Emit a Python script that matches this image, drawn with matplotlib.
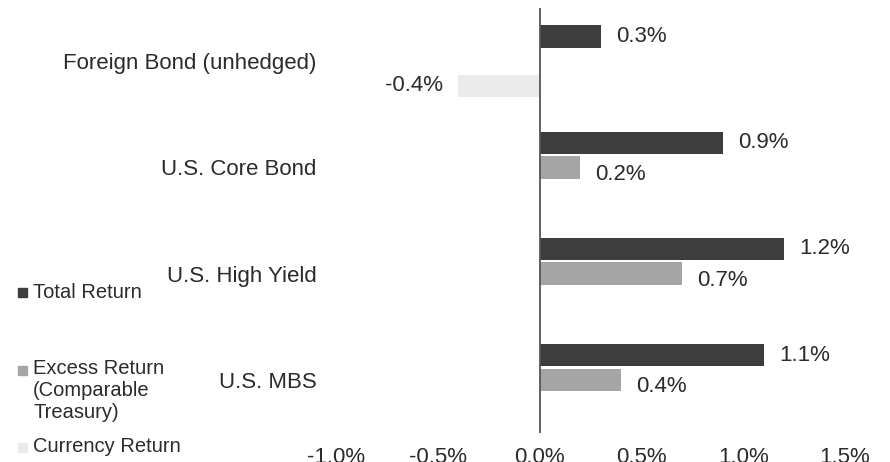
import numpy as np
import matplotlib
matplotlib.use("Agg")
import matplotlib.pyplot as plt
from matplotlib.patches import Rectangle

plt.rcParams['font.family'] = ['Liberation Sans', 'DejaVu Sans']

categories = ["Foreign Bond (unhedged)", "U.S. Core Bond", "U.S. High Yield", "U.S. MBS"]
series_names = ["Total Return", "Excess Return\n(Comparable\nTreasury)", "Currency Return"]
total_return = [0.3, 0.9, 1.2, 1.1]
excess_return = [np.nan, 0.2, 0.7, 0.4]
currency_return = [-0.4, np.nan, np.nan, np.nan]
x_ticks = [-1.0, -0.5, 0.0, 0.5, 1.0, 1.5]

colors = ["#3d3d3d", "#a5a5a5", "#ebebeb"]
text_color = "#2b2b2b"

fig = plt.figure(figsize=(8.9, 4.62), dpi=100)
ax = fig.add_axes([336 / 890, 1 - 433 / 462, 509 / 890, 425 / 462])

ypos = np.arange(len(categories))
slot = 0.232
bar_h = 0.21
all_series = [total_return, excess_return, currency_return]

for k, vals in enumerate(all_series):
    offs = (k - 1) * slot
    for i, v in enumerate(vals):
        if np.isnan(v):
            continue
        y = ypos[i] + offs
        ax.barh(y, v, height=bar_h, color=colors[k], edgecolor="none")
        lbl = f"{v:.1f}%"
        dy = -5 if k == 1 else 0  # excess labels sit a bit lower
        if v >= 0:
            ax.annotate(lbl, (v, y), xytext=(11, dy), textcoords="offset points",
                        ha="left", va="center", fontsize=16, color=text_color)
        else:
            ax.annotate(lbl, (v, y), xytext=(-11, dy), textcoords="offset points",
                        ha="right", va="center", fontsize=16, color=text_color)

ax.axvline(0, color="#555555", lw=1.3)

ax.set_xlim(-1.0, 1.5)
ax.set_ylim(len(categories) - 0.5, -0.5)
ax.set_xticks(x_ticks)
ax.set_xticklabels([f"{t:.1f}%" for t in x_ticks], fontsize=16, color=text_color)
ax.set_yticks(ypos)
ax.set_yticklabels(categories, fontsize=16, color=text_color)
ax.tick_params(axis="x", length=0, pad=10)
ax.tick_params(axis="y", length=0, pad=14)
for s in ax.spines.values():
    s.set_visible(False)

# legend on the left, drawn by hand
leg_y = [292, 370, 447]
for k, name in enumerate(series_names):
    yy = 1 - leg_y[k] / 462
    fig.add_artist(Rectangle((18 / 890, yy - 4.5 / 462), 9 / 890, 9 / 462,
                             transform=fig.transFigure, color=colors[k]))
    if "\n" in name:
        fig.text(33 / 890, yy + 11 / 462, name, fontsize=14.5, color=text_color,
                 ha="left", va="top", linespacing=1.2)
    else:
        fig.text(33 / 890, yy, name, fontsize=14.5, color=text_color,
                 ha="left", va="center")

fig.savefig("out.png", dpi=100)
